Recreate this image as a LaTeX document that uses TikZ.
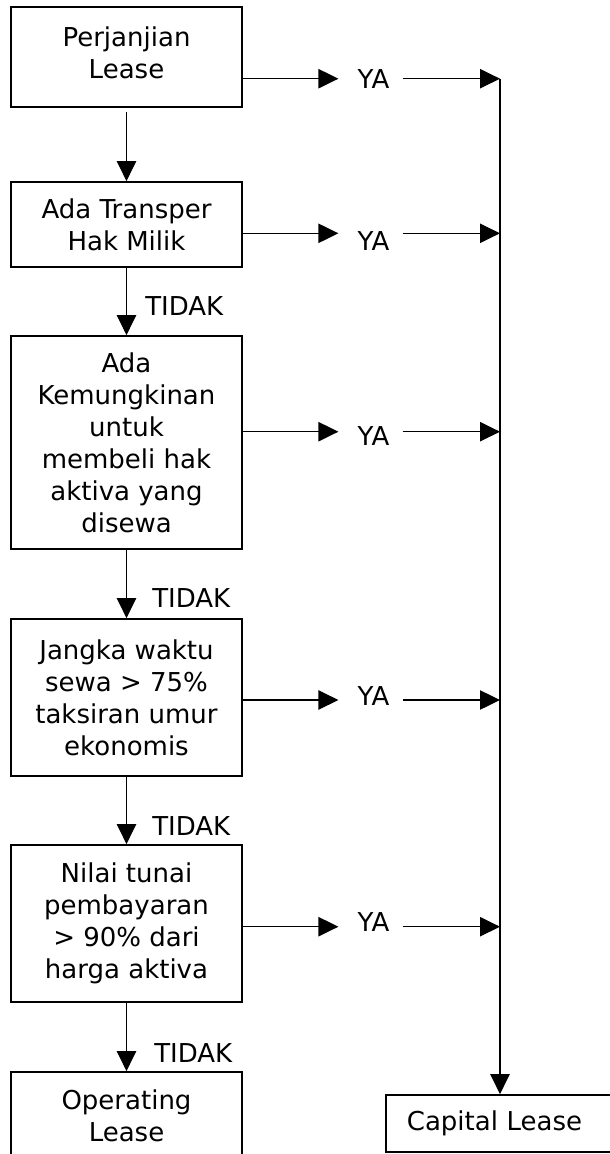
\documentclass[tikz,border=0pt]{standalone}
\usepackage{fontspec}
\setmainfont{DejaVu Sans}
\usetikzlibrary{arrows.meta}
\begin{document}
\begin{tikzpicture}[x=0.75pt,y=-0.75pt,
  every node/.style={font=\fontsize{19.5}{24}\selectfont},
  box/.style={draw, line width=1.3pt, align=center, minimum width=173.25pt, inner sep=0pt},
  arr/.style={-{Triangle[length=15pt,width=14.5pt]}, line width=0.95pt},
  lbl/.style={inner sep=0pt, anchor=base west},
  ya/.style={inner sep=0pt}]
\useasboundingbox (0,0) rectangle (610,1154);
\clip (0,0) rectangle (610,1154);
% boxes
\node[box, minimum height=75pt, text depth=7pt] (b1) at (126.5,57) {Perjanjian\\Lease};
\node[box, minimum height=63.75pt] (b2) at (126.5,224.5) {Ada Transper\\Hak Milik};
\node[box, minimum height=159.75pt] (b3) at (126.5,442.5) {Ada\\Kemungkinan\\untuk\\membeli hak\\aktiva yang\\disewa};
\node[box, minimum height=117.75pt] (b4) at (126.5,697.5) {Jangka waktu\\sewa > 75\%\\taksiran umur\\ekonomis};
\node[box, minimum height=117.75pt] (b5) at (126.5,923.5) {Nilai tunai\\pembayaran\\> 90\% dari\\harga aktiva};
\node[box, minimum height=65.25pt] (b6) at (126.5,1115.5) {Operating\\Lease};
\node[box, anchor=west, inner xsep=15.75pt, text width=144.75pt, align=left, minimum width=176.25pt, minimum height=42.75pt] (cap) at (385,1123.5) {Capital Lease};
% labels
\node[lbl] (t1) at (145,315) {TIDAK};
\node[lbl] (t2) at (152,607) {TIDAK};
\node[lbl] (t3) at (152,835) {TIDAK};
\node[lbl] (t4) at (154,1062) {TIDAK};
\node[ya] (y1) at (373.5,79) {YA};
\node[ya] (y2) at (373.5,241) {YA};
\node[ya] (y3) at (373.5,436.5) {YA};
\node[ya] (y4) at (373.5,696) {YA};
\node[ya] (y5) at (373.5,922.5) {YA};
% right line coordinates
\coordinate (r1) at (500,78.7);
\coordinate (r2) at (500,233.3);
\coordinate (r3) at (500,431.7);
\coordinate (r4) at (500,700);
\coordinate (r5) at (500,926.7);
% down arrows
\draw[arr, shorten <=3pt] (b1) -- (b2);
\draw[arr] (b2) -- (b3);
\draw[arr] (b3) -- (b4);
\draw[arr] (b4) -- (b5);
\draw[arr] (b5) -- (b6);
% YA arrows
\foreach \i/\b in {1/b1,2/b2,3/b3,4/b4,5/b5}{
  \draw[arr, shorten >=14.25pt] (\b.east |- r\i) -- (y\i.west |- r\i);
  \draw[arr, shorten <=9.75pt] (y\i.east |- r\i) -- (r\i);
}
\draw[arr] (r1) -- (r1 |- cap.north);
\end{tikzpicture}
\end{document}
